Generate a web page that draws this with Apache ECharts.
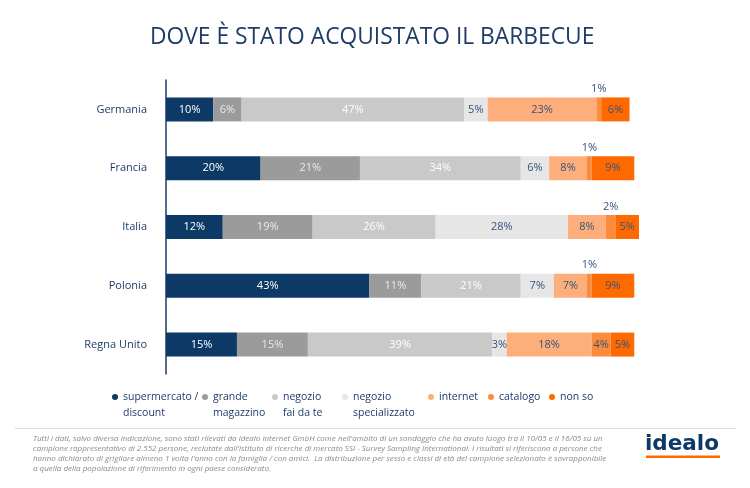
<!DOCTYPE html>
<html>
<head>
<meta charset="utf-8">
<script src="https://cdn.jsdelivr.net/npm/echarts@6/dist/echarts.min.js"></script>
<style>html,body{margin:0;padding:0;background:#fff;}#c{width:750px;height:488px;}</style>
</head>
<body>
<div id="c"></div>
<script>
const categories = ['Germania', 'Francia', 'Italia', 'Polonia', 'Regna Unito'];
const seriesNames = ['supermercato /\ndiscount', 'grande\nmagazzino', 'negozio\nfai da te', 'negozio\nspecializzato', 'internet', 'catalogo', 'non so'];
const supermercato = [10, 20, 12, 43, 15];
const grandeMagazzino = [6, 21, 19, 11, 15];
const faiDaTe = [47, 34, 26, 21, 39];
const specializzato = [5, 6, 28, 7, 3];
const internet = [23, 8, 8, 7, 18];
const catalogo = [1, 1, 2, 1, 4];
const nonSo = [6, 9, 5, 9, 5];
const footerLines = [
  "Tutti i dati, salvo diversa indicazione, sono stati rilevati da idealo internet GmbH come nell'ambito di un sondaggio che ha avuto luogo tra il 10/05 e il 16/05 su un",
  "campione rappresentativo di 2.552 persone, reclutate dall'istituto di ricerche di mercato SSI - Survey Sampling International. I risultati si riferiscono a persone che",
  "hanno dichiarato di grigliare almeno 1 volta l'anno con la famiglia / con amici.  La distribuzione per sesso e classi di età del campione selezionato è sovrapponibile",
  "a quella della popolazione di riferimento in ogni paese considerato."
];

const seriesData = [supermercato, grandeMagazzino, faiDaTe, specializzato, internet, catalogo, nonSo];
const colors = ['#0c3966', '#9b9b9b', '#c9c9c9', '#e6e6e6', '#fdae7b', '#fc8c3c', '#ff6a00'];
const labelColors = ['#ffffff', '#e9e9e9', '#ffffff', '#33547c', '#33547c', '#33547c', '#33547c'];
const navy = '#1d3d68';
const font = 'Open Sans';

const series = seriesData.map((arr, i) => ({
  name: seriesNames[i],
  type: 'bar',
  stack: 'total',
  barWidth: 24,
  itemStyle: { color: colors[i] },
  label: {
    show: true,
    position: 'inside',
    formatter: '{c}%',
    color: labelColors[i],
    fontFamily: font,
    fontSize: 11
  },
  data: arr.map(v => {
    if (i === 5 && v < 3) {
      return { value: v, label: { position: 'top', distance: 3, color: '#33547c' } };
    }
    return v;
  })
}));

const legendLefts = [112, 202, 272, 342, 428, 488, 549];
const legends = seriesNames.map((n, i) => {
  const two = n.indexOf('\n') >= 0;
  return {
    data: [n],
    left: legendLefts[i],
    top: two ? 373 : 389,
    orient: 'horizontal',
    icon: 'circle',
    itemWidth: 6,
    itemHeight: 6,
    itemGap: 0,
    padding: 0,
    selectedMode: false,
    formatter: two ? (name => '\n' + name) : undefined,
    textStyle: {
      color: navy,
      fontFamily: font,
      fontSize: 10.5,
      lineHeight: 16
    }
  };
});

const graphics = [
  { type: 'line', shape: { x1: 15, y1: 428.5, x2: 736, y2: 428.5 }, style: { stroke: '#dedede', lineWidth: 1 } }
];
footerLines.forEach((t, i) => {
  graphics.push({
    type: 'text', left: 33, top: 435 + i * 10,
    style: { text: t, font: 'italic 8px "Open Sans"', fill: '#8a8a8a' }
  });
});
graphics.push({
  type: 'text', left: 645, top: 433,
  style: { text: 'idealo', font: 'bold 21.5px "DejaVu Sans"', fill: '#0c3966' }
});
graphics.push({
  type: 'rect', shape: { x: 646, y: 455.5, width: 74, height: 2.5 }, style: { fill: '#ff6a00' }
});

const option = {
  animation: false,
  backgroundColor: '#ffffff',
  title: {
    text: 'DOVE È STATO ACQUISTATO IL BARBECUE',
    left: 150,
    top: 26,
    padding: 0,
    textStyle: { color: navy, fontFamily: font, fontSize: 22.8, fontWeight: 'normal' }
  },
  legend: legends,
  grid: { left: 166, top: 80, width: 473, height: 294, containLabel: false },
  xAxis: { type: 'value', min: 0, max: 100, show: false },
  yAxis: {
    type: 'category',
    data: categories,
    inverse: true,
    axisLine: { show: true, lineStyle: { color: '#1d3d68', width: 1.5 } },
    axisTick: { show: false },
    axisLabel: { color: navy, fontFamily: font, fontSize: 11, margin: 19 }
  },
  series: series,
  graphic: graphics
};

const chart = echarts.init(document.getElementById('c'), null, { renderer: 'canvas' });
chart.setOption(option);
</script>
</body>
</html>
